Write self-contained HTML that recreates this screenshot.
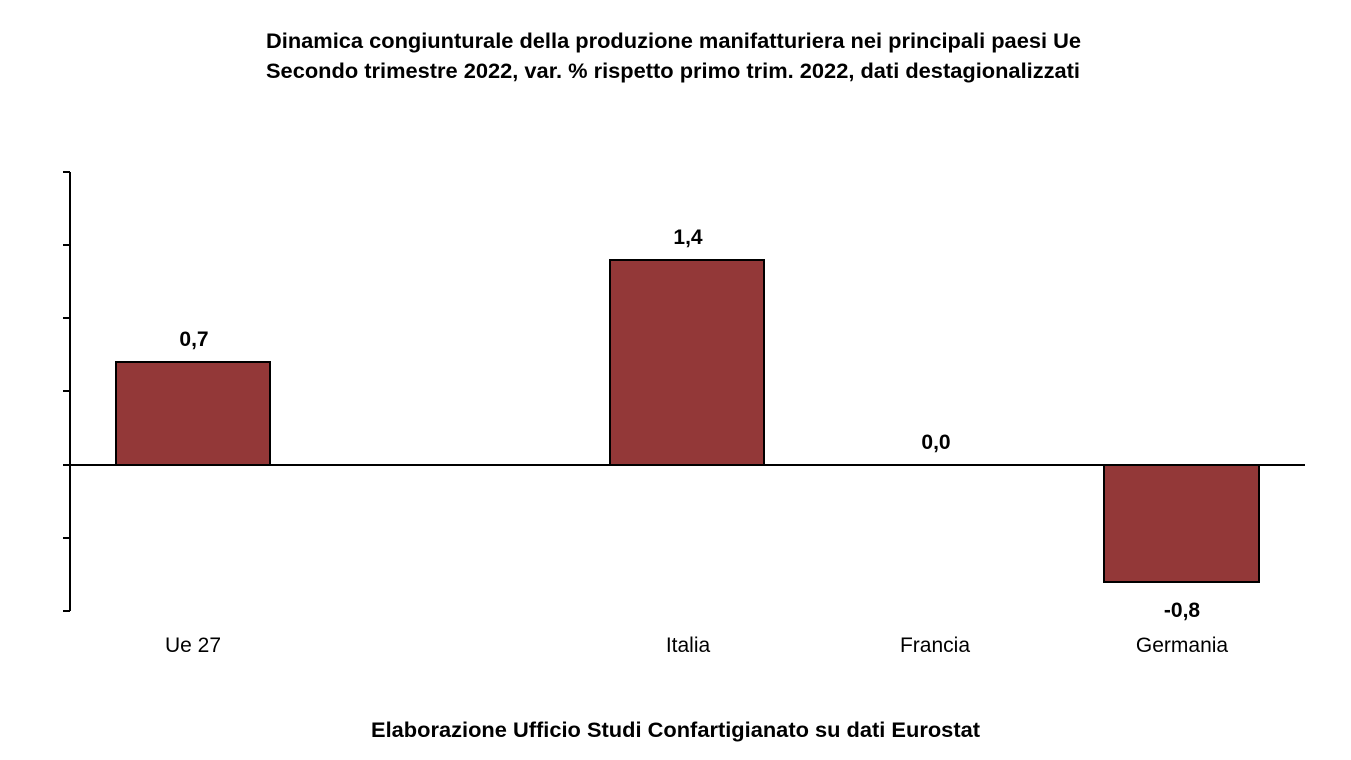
<!DOCTYPE html>
<html><head><meta charset="utf-8"><style>html,body{margin:0;padding:0;background:#fff}svg{display:block}</style></head>
<body>
<svg width="1351" height="760" viewBox="0 0 1351 760" xmlns="http://www.w3.org/2000/svg" font-family="'Liberation Sans Narrow','Liberation Sans',sans-serif">
<rect width="1351" height="760" fill="#fff"/>
<text x="266" y="48" font-size="21" font-weight="bold" textLength="815" lengthAdjust="spacingAndGlyphs">Dinamica congiunturale della produzione manifatturiera nei principali paesi Ue</text>
<text x="266" y="78" font-size="21" font-weight="bold" textLength="814" lengthAdjust="spacingAndGlyphs">Secondo trimestre 2022, var. % rispetto primo trim. 2022, dati destagionalizzati</text>
<g stroke="#000" stroke-width="2">
<line x1="70" y1="172" x2="70" y2="611"/>
<line x1="63" y1="172" x2="70" y2="172"/>
<line x1="63" y1="245" x2="70" y2="245"/>
<line x1="63" y1="318" x2="70" y2="318"/>
<line x1="63" y1="391" x2="70" y2="391"/>
<line x1="63" y1="465" x2="70" y2="465"/>
<line x1="63" y1="538" x2="70" y2="538"/>
<line x1="63" y1="611" x2="70" y2="611"/>
</g>
<g fill="#933838" stroke="#000" stroke-width="2">
<rect x="116" y="362" width="154" height="103"/>
<rect x="610" y="260" width="154" height="205"/>
<rect x="1104" y="465" width="155" height="117"/>
</g>
<line x1="70" y1="465" x2="1305" y2="465" stroke="#000" stroke-width="2"/>
<g font-size="21" font-weight="bold" text-anchor="middle">
<text x="194" y="346">0,7</text>
<text x="688" y="244">1,4</text>
<text x="936" y="449">0,0</text>
<text x="1182" y="617">-0,8</text>
</g>
<g font-size="21" text-anchor="middle">
<text x="193" y="652">Ue 27</text>
<text x="688" y="652">Italia</text>
<text x="935" y="652">Francia</text>
<text x="1182" y="652">Germania</text>
</g>
<text x="371" y="737" font-size="21" font-weight="bold" textLength="609" lengthAdjust="spacingAndGlyphs">Elaborazione Ufficio Studi Confartigianato su dati Eurostat</text>
</svg>
</body></html>
